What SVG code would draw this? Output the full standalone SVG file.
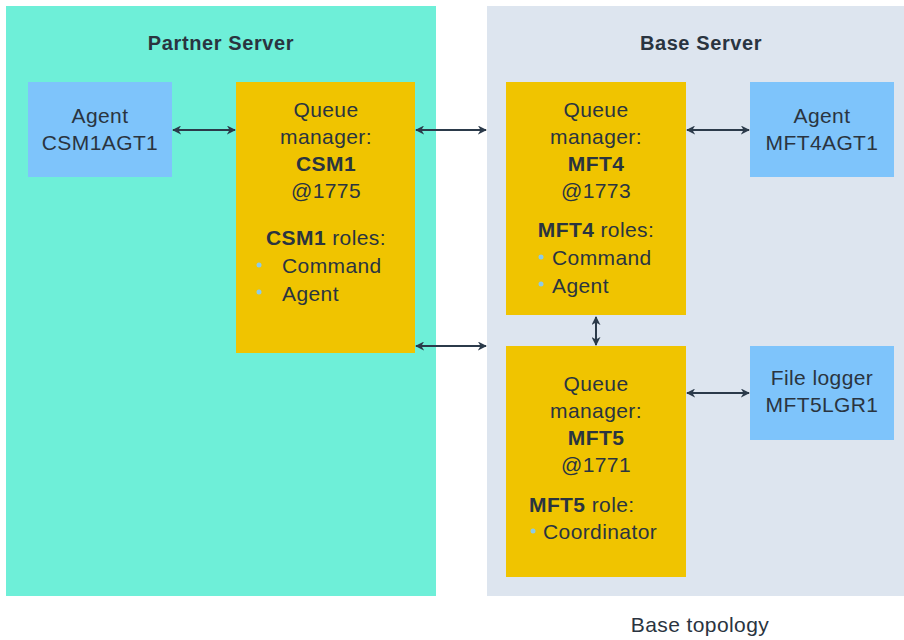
<svg xmlns="http://www.w3.org/2000/svg" width="904" height="640" viewBox="0 0 904 640">
<defs>
<style>
text{font-family:"Liberation Sans",Arial,sans-serif;font-size:21px;letter-spacing:0.4px;fill:#2a3440}
.c{text-anchor:middle}
.b{font-weight:bold}
.t{font-size:20px;font-weight:bold;letter-spacing:0.6px}
.qm{fill:#f0c400}
.ag{fill:#7ec4fb}
.ln{stroke:#2b3a4a;stroke-width:2;fill:none;marker-start:url(#a);marker-end:url(#a)}
.bu{fill:#8ccbe8}
</style>
<marker id="a" viewBox="0 0 10 10" refX="9" refY="5" markerWidth="9" markerHeight="9" orient="auto-start-reverse" markerUnits="userSpaceOnUse">
<path d="M0,0L10,5L0,10L3,5z" fill="#2b3a4a"/>
</marker>
</defs>
<rect width="904" height="640" fill="#fff"/>
<g id="partner-server">
<rect x="6" y="6" width="430" height="590" fill="#6eefd8"/>
<text class="c t" x="221" y="50">Partner Server</text>
</g>
<g id="base-server">
<rect x="487" y="6" width="417" height="590" fill="#dde5ef"/>
<text class="c t" x="701" y="50">Base Server</text>
</g>
<g id="agent-csm1agt1">
<rect class="ag" x="28" y="82" width="144" height="95"/>
<text class="c" x="100" y="123">Agent</text>
<text class="c" x="100" y="150">CSM1AGT1</text>
</g>
<g id="qm-csm1">
<rect class="qm" x="236" y="82" width="179" height="271"/>
<text class="c" x="326" y="117">Queue</text>
<text class="c" x="326" y="144">manager:</text>
<text class="c b" x="326" y="171">CSM1</text>
<text class="c" x="326" y="198">@1775</text>
<text class="c" x="326" y="245"><tspan class="b">CSM1</tspan> roles:</text>
<circle class="bu" cx="259" cy="265" r="2.5"/>
<text x="282" y="273">Command</text>
<circle class="bu" cx="259" cy="292" r="2.5"/>
<text x="282" y="301">Agent</text>
</g>
<g id="qm-mft4">
<rect class="qm" x="506" y="82" width="180" height="233"/>
<text class="c" x="596" y="117">Queue</text>
<text class="c" x="596" y="144">manager:</text>
<text class="c b" x="596" y="171">MFT4</text>
<text class="c" x="596" y="198">@1773</text>
<text class="c" x="596" y="237"><tspan class="b">MFT4</tspan> roles:</text>
<circle class="bu" cx="541" cy="257" r="2.5"/>
<text x="552" y="265">Command</text>
<circle class="bu" cx="541" cy="284" r="2.5"/>
<text x="552" y="293">Agent</text>
</g>
<g id="qm-mft5">
<rect class="qm" x="506" y="346" width="180" height="231"/>
<text class="c" x="596" y="391">Queue</text>
<text class="c" x="596" y="418">manager:</text>
<text class="c b" x="596" y="445">MFT5</text>
<text class="c" x="596" y="472">@1771</text>
<text x="529" y="512"><tspan class="b">MFT5</tspan> role:</text>
<circle class="bu" cx="533" cy="531" r="2.5"/>
<text x="543" y="539">Coordinator</text>
</g>
<g id="agent-mft4agt1">
<rect class="ag" x="750" y="82" width="144" height="95"/>
<text class="c" x="822" y="123">Agent</text>
<text class="c" x="822" y="150">MFT4AGT1</text>
</g>
<g id="file-logger-mft5lgr1">
<rect class="ag" x="750" y="346" width="144" height="94"/>
<text class="c" x="822" y="385">File logger</text>
<text class="c" x="822" y="412">MFT5LGR1</text>
</g>
<g id="connectors">
<line class="ln" x1="173" y1="130" x2="235" y2="130"/>
<line class="ln" x1="416" y1="130" x2="486" y2="130"/>
<line class="ln" x1="687" y1="130" x2="749" y2="130"/>
<line class="ln" x1="416" y1="346" x2="486" y2="346"/>
<line class="ln" x1="596" y1="317" x2="596" y2="345"/>
<line class="ln" x1="687" y1="393" x2="749" y2="393"/>
</g>
<text class="c" x="700" y="632">Base topology</text>
</svg>
